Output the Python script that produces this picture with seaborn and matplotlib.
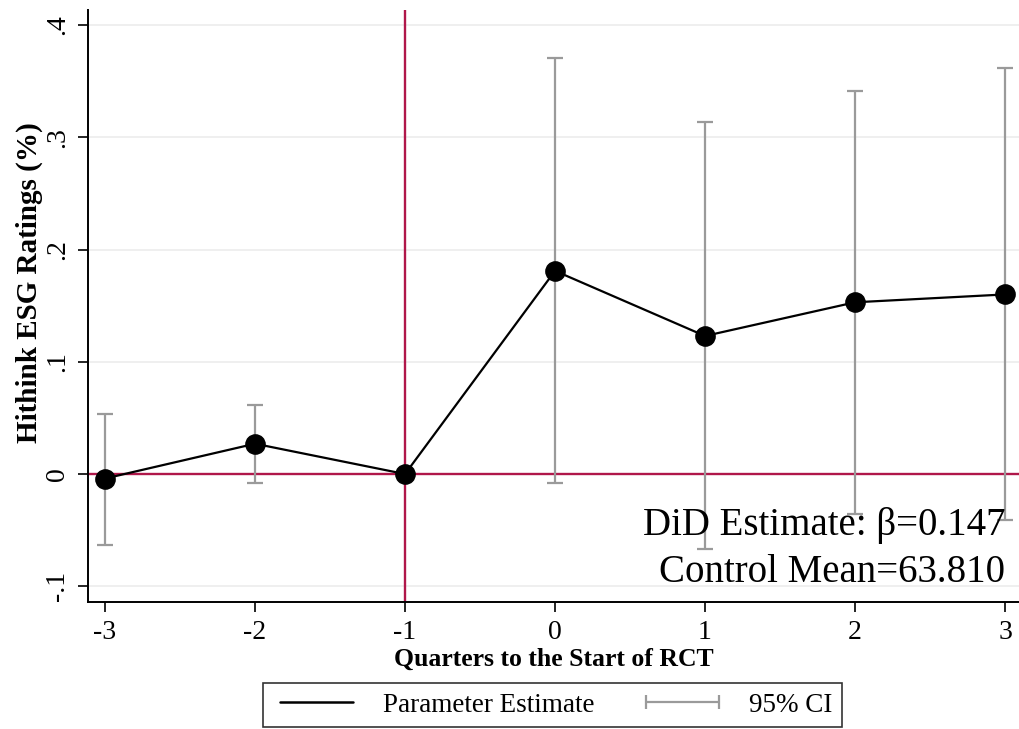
import matplotlib
matplotlib.use("Agg")
import matplotlib.pyplot as plt
import seaborn as sns
import numpy as np
import pandas as pd
from matplotlib.lines import Line2D

# event-study estimates
quarters = [-3, -2, -1, 0, 1, 2, 3]
estimate = [-0.004, 0.027, 0.0, 0.181, 0.123, 0.153, 0.160]
ci_low = [-0.063, -0.008, 0.0, -0.008, -0.067, -0.036, -0.041]
ci_high = [0.0535, 0.0615, 0.0, 0.371, 0.314, 0.341, 0.362]
yticks = [-0.1, 0, 0.1, 0.2, 0.3, 0.4]
ytick_labels = ["-.1", "0", ".1", ".2", ".3", ".4"]

RED = "#B0174A"
GREY = "#9a9a9a"

sns.set_theme(style="white")
plt.rcParams['font.family'] = ['Liberation Serif', 'DejaVu Serif']
plt.rcParams['mathtext.fontset'] = 'stix'
for k in ['text.color', 'axes.labelcolor', 'xtick.color', 'ytick.color']:
    plt.rcParams[k] = 'black'

df = pd.DataFrame({'q': quarters, 'est': estimate, 'lo': ci_low, 'hi': ci_high})

fig = plt.figure(figsize=(10.19, 7.29), dpi=100)
ax = fig.add_axes([0.0864, 0.1742, 0.9136, 0.8121])

for y in yticks:
    ax.axhline(y, color="#ececec", lw=1.2, zorder=0)
ax.axhline(0, color=RED, lw=1.7, zorder=1)
ax.axvline(-1, color=RED, lw=1.7, zorder=1)

# confidence intervals (skip the reference period)
ci = df[df['q'] != -1]
ax.errorbar(ci['q'], ci['est'], yerr=[ci['est'] - ci['lo'], ci['hi'] - ci['est']],
            fmt='none', ecolor=GREY, elinewidth=1.6, capsize=5.5, capthick=1.6, zorder=2)

sns.lineplot(data=df, x='q', y='est', color='black', lw=1.6, ax=ax, zorder=3)
sns.scatterplot(data=df, x='q', y='est', color='black', s=190, edgecolor='black', ax=ax, zorder=4)

ax.set_xlim(-3.113, 3.093)
ax.set_ylim(-0.114, 0.4134)
ax.set_xticks(quarters)
ax.set_xticklabels([str(q) for q in quarters], fontsize=20)
ax.set_yticks(yticks)
ax.set_yticklabels(ytick_labels, fontsize=20, rotation=90, va='center')
ax.tick_params(axis='both', which='major', length=7, width=1.2, color='black', direction='out',
               bottom=True, left=True, pad=6)

for side in ['top', 'right']:
    ax.spines[side].set_visible(False)
for side in ['left', 'bottom']:
    ax.spines[side].set_color('black')
    ax.spines[side].set_linewidth(1.4)

ax.set_xlabel("Quarters to the Start of RCT", fontsize=18.5, fontweight='bold', labelpad=2)
ax.set_ylabel("Hithink ESG Ratings (%)", fontsize=21, fontweight='bold')
ax.yaxis.set_label_coords(-0.048, 0.54)

ax.text(0.985, 0.113, "DiD Estimate: β=0.147", transform=ax.transAxes, ha='right', va='baseline',
        fontsize=28)
ax.text(0.985, 0.034, "Control Mean=63.810", transform=ax.transAxes, ha='right', va='baseline',
        fontsize=28)

handles = [Line2D([0], [0], color='black', lw=1.8),
           Line2D([0], [0], color=GREY, lw=1.6, marker='|', markersize=10, markeredgewidth=1.6)]
leg = fig.legend(handles, ["Parameter Estimate", "95% CI"], loc='upper center',
                 bbox_to_anchor=(0.542, 0.063), ncol=2, frameon=True, fancybox=False,
                 fontsize=19.5, handlelength=3.3, columnspacing=1.6, borderpad=0.35,
                 borderaxespad=0, numpoints=2, edgecolor='black')
leg.get_frame().set_linewidth(1.2)

fig.savefig("out.png", dpi=100)
